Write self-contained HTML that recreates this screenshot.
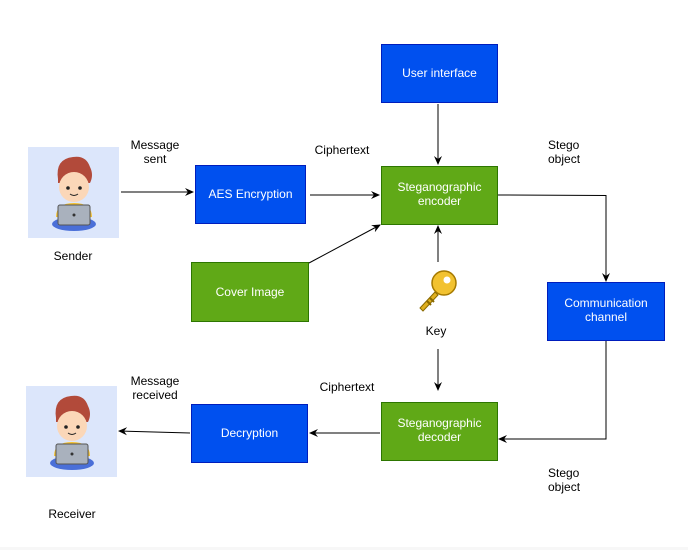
<!DOCTYPE html>
<html><head><meta charset="utf-8"><style>
html,body{margin:0;padding:0;background:#fff;}
svg{display:block;}
text{font-family:"Liberation Sans",Arial,sans-serif;font-size:12px;}
.w{fill:#fff;text-anchor:middle;}
.k{fill:#000;}
</style></head><body>
<svg width="688" height="550" viewBox="0 0 688 550" xmlns="http://www.w3.org/2000/svg">
<defs>
<marker id="a" markerWidth="10" markerHeight="10" refX="8" refY="5" orient="auto" markerUnits="userSpaceOnUse">
<path d="M0,1 L9,5 L0,9 L3,5 Z" fill="#000"/></marker>
<g id="p">
<rect x="0" y="0" width="91" height="91" fill="#dce6fb"/>
<!-- hair -->
<path d="M30,32 Q27,12 45,10 Q58,8 62,20 Q66,28 62,36 L30,36 Z" fill="#b24a3a"/>
<!-- face -->
<ellipse cx="46" cy="40" rx="15" ry="15" fill="#fbd7b8"/>
<path d="M31,34 Q34,20 48,22 Q60,22 61,32 L61,28 Q58,16 45,16 Q30,17 31,34 Z" fill="#b24a3a"/>
<circle cx="40" cy="41" r="1.8" fill="#222"/>
<circle cx="52" cy="41" r="1.8" fill="#222"/>
<path d="M42,47 Q46,50 50,47" stroke="#222" stroke-width="1" fill="none"/>
<!-- body -->
<path d="M28,70 Q28,56 46,56 Q64,56 64,70 Z" fill="#f5c12e"/>
<!-- legs -->
<ellipse cx="46" cy="77" rx="22" ry="7" fill="#4a6fd8"/>
<!-- laptop -->
<rect x="30" y="58" width="32" height="20" rx="2" fill="#a9b1bd" stroke="#555" stroke-width="1"/>
<circle cx="46" cy="68" r="1.5" fill="#333"/>
</g>
</defs>

<use href="#p" x="28" y="147"/>
<use href="#p" x="26" y="386"/>

<rect x="381.5" y="44.5" width="116" height="58" fill="#0050ef" stroke="#001dbc"/>
<text class="w" x="439.5" y="77">User interface</text>

<rect x="195.5" y="165.5" width="110" height="58" fill="#0050ef" stroke="#001dbc"/>
<text class="w" x="250.5" y="198">AES Encryption</text>

<rect x="381.5" y="166.5" width="116" height="58" fill="#60a917" stroke="#2d7600"/>
<text class="w" x="439.5" y="191">Steganographic</text>
<text class="w" x="439.5" y="205">encoder</text>

<rect x="191.5" y="262.5" width="117" height="59" fill="#60a917" stroke="#2d7600"/>
<text class="w" x="250" y="296">Cover Image</text>

<rect x="547.5" y="282.5" width="117" height="58" fill="#0050ef" stroke="#001dbc"/>
<text class="w" x="606" y="307">Communication</text>
<text class="w" x="606" y="321">channel</text>

<rect x="381.5" y="402.5" width="116" height="58" fill="#60a917" stroke="#2d7600"/>
<text class="w" x="439.5" y="427">Steganographic</text>
<text class="w" x="439.5" y="441">decoder</text>

<rect x="191.5" y="404.5" width="116" height="58" fill="#0050ef" stroke="#001dbc"/>
<text class="w" x="249.5" y="437">Decryption</text>

<g stroke="#000" stroke-width="1" fill="none">
<line x1="121" y1="192" x2="193" y2="192" marker-end="url(#a)"/>
<line x1="310" y1="195" x2="379" y2="195" marker-end="url(#a)"/>
<line x1="309" y1="263" x2="380" y2="225" marker-end="url(#a)"/>
<line x1="438" y1="104" x2="438" y2="164" marker-end="url(#a)"/>
<line x1="438" y1="262" x2="438" y2="226" marker-end="url(#a)"/>
<line x1="438" y1="349" x2="438" y2="390" marker-end="url(#a)"/>
<polyline points="498,195 606,195.5 606,281" marker-end="url(#a)"/>
<polyline points="606,341 606,439 499,439" marker-end="url(#a)"/>
<line x1="380" y1="433" x2="310" y2="433" marker-end="url(#a)"/>
<line x1="190" y1="433" x2="119" y2="431" marker-end="url(#a)"/>
</g>

<!-- key -->
<g transform="translate(420,268)">
<circle cx="24" cy="15" r="12" fill="#f2c230" stroke="#a67a00" stroke-width="1.5"/>
<circle cx="27" cy="12" r="3.5" fill="#fff"/>
<path d="M15,24 L0,40 L3,43 L18,27 Z" fill="#e0b020" stroke="#8a6a00" stroke-width="1"/>
<path d="M7,33 L11,37 M10,30 L14,34" stroke="#8a6a00" stroke-width="2"/>
</g>

<text class="k" x="155" y="149" text-anchor="middle">Message</text>
<text class="k" x="155" y="163" text-anchor="middle">sent</text>
<text class="k" x="342" y="154" text-anchor="middle">Ciphertext</text>
<text class="k" x="548" y="149">Stego</text>
<text class="k" x="548" y="163">object</text>
<text class="k" x="436" y="335" text-anchor="middle">Key</text>
<text class="k" x="347" y="391" text-anchor="middle">Ciphertext</text>
<text class="k" x="155" y="385" text-anchor="middle">Message</text>
<text class="k" x="155" y="399" text-anchor="middle">received</text>
<text class="k" x="548" y="477">Stego</text>
<text class="k" x="548" y="491">object</text>
<text class="k" x="73" y="260" text-anchor="middle">Sender</text>
<text class="k" x="72" y="518" text-anchor="middle">Receiver</text>

<rect x="0" y="547" width="688" height="3" fill="#f7f7f7"/>
</svg>
</body></html>
